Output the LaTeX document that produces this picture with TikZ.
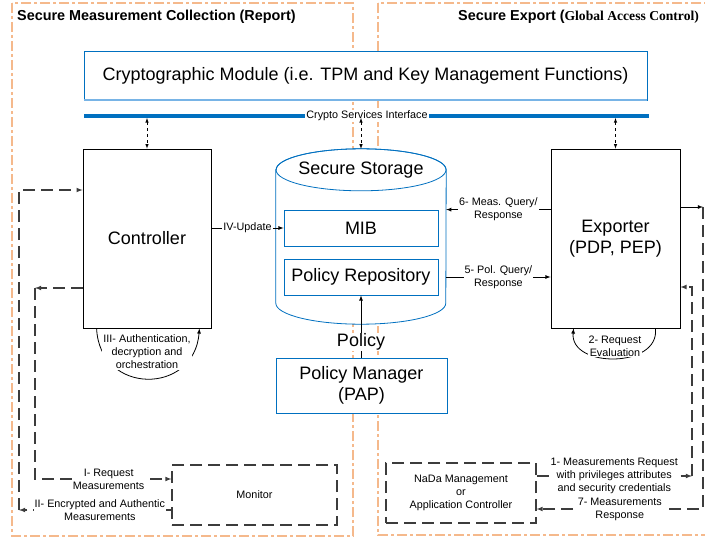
\documentclass[tikz,border=0pt]{standalone}
\usepackage{fontspec}
\setmainfont{Liberation Sans}
\newfontfamily\timesfont{Liberation Serif}
\usepackage{tikz}
\usetikzlibrary{calc}
\definecolor{myblue}{RGB}{0,112,192}
\definecolor{mylightblue}{RGB}{120,180,230}
\definecolor{myorange}{RGB}{245,185,140}
\definecolor{mygray}{RGB}{60,60,60}
\newcommand{\bigtxt}{\fontsize{18}{21}\selectfont}
\newcommand{\smalltxt}{\fontsize{10.8}{13}\selectfont}
\newcommand{\titletxt}{\fontsize{14.4}{16}\selectfont\bfseries}

\begin{document}
\begin{tikzpicture}[x=1pt,y=-1pt,>=latex]
	\tikzstyle{zone}=[draw=myorange,line width=1.1pt,dash pattern=on 10pt off 3pt on 3pt off 3pt];
	\tikzstyle{blk}=[draw,fill=white,line width=0.8pt,align=center,font=\bigtxt];
	\tikzstyle{bbox}=[draw=myblue,fill=white,line width=0.8pt,align=center,font=\bigtxt];
	\tikzstyle{dbox}=[draw=mygray,fill=white,line width=1.1pt,dash pattern=on 12pt off 6pt,align=center,font=\smalltxt];
	\tikzstyle{lbl}=[fill=white,inner sep=1pt,align=center,font=\smalltxt];
	\tikzstyle{dline}=[draw=mygray,line width=1.1pt,dash pattern=on 12pt off 6pt];
	\tikzstyle{sline}=[->,line width=0.8pt];
	\tikzstyle{svc}=[<->,dashed,line width=0.6pt,shorten <=2pt];
	\useasboundingbox (0,0) rectangle (705,543);
	% the two zones
	\draw[zone] (12,3) rectangle (353,536);
	\draw[zone] (378,3) rectangle (720,535);
	\node[anchor=west,font=\titletxt,inner sep=0pt] (tl) at (17,17) {Secure Measurement Collection (Report)};
	\node[anchor=west,font=\titletxt,inner sep=0pt] (tr) at (458,17) {Secure Export ({\timesfont\fontsize{13.6}{16}\selectfont Global Access Control)}};
	% crypto module and its interface
	\node[bbox,minimum width=563,minimum height=49] (cm) at (365.5,75.5) {Cryptographic Module (i.e. TPM and Key Management Functions)};
	\draw[mylightblue,line width=2pt] (cm.south west) -- (cm.south east);
	\node[fill=white,font=\smalltxt,inner sep=1pt] (csi) at (367,116) {Crypto Services Interface};
	\coordinate (ifl) at (84,116);
	\coordinate (ifr) at (649,116);
	\draw[myblue,line width=3.5pt] (ifl) -- (csi.west);
	\draw[myblue,line width=3.5pt] (csi.east) -- (ifr);
	% main blocks
	\node[blk,minimum width=128,minimum height=179] (ctrl) at (147,238.5) {Controller};
	\node[blk,minimum width=129,minimum height=179] (exp) at (615.5,238.5) {Exporter\\(PDP, PEP)};
	\node[minimum width=170,minimum height=175,inner sep=0pt] (store) at (361,236.5) {};
	\draw[myblue,fill=white,line width=0.8pt] ($(store.north west)+(0,21)$) -- ($(store.south west)+(0,-21)$)
		arc[start angle=180,end angle=360,x radius=85pt,y radius=21pt] -- ($(store.north east)+(0,21)$)
		arc[start angle=0,end angle=180,x radius=85pt,y radius=21pt] -- cycle;
	\draw[myblue,line width=0.8pt] ($(store.north)+(0,21)$) ellipse [x radius=85pt,y radius=21pt];
	\node[font=\bigtxt] (sst) at (361,170) {Secure Storage};
	\node[bbox,minimum width=154,minimum height=36] (mib) at (361,228) {MIB};
	\node[bbox,minimum width=154,minimum height=36] (pol) at (361,277) {Policy Repository};
	\node[bbox,minimum width=171,minimum height=55] (pap) at (361.5,385.5) {Policy Manager\\(PAP)};
	\node[dbox,minimum width=165,minimum height=60] (mon) at (254.5,495) {Monitor};
	\node[dbox,minimum width=150,minimum height=60] (nada) at (461,493) {NaDa Management\\or\\Application Controller};
	% services
	\draw[svc] (ctrl.north |- ifl) -- (ctrl.north);
	\draw[svc] (store.north |- ifl) -- (store.north);
	\draw[svc] (exp.north |- ifl) -- (exp.north);
	% solid links
	\draw[sline] (ctrl.east |- mib) -- node[lbl]{IV-Update} (mib.west);
	\draw[sline] (exp.west |- mib.north) -- node[lbl]{6- Meas. Query/\\Response} (store.east |- mib.north);
	\draw[sline] (store.east |- pol) -- node[lbl]{5- Pol. Query/\\Response} (exp.west |- pol);
	\draw[sline] (pol.south |- pap.north) -- node[pos=0.25,fill=white,inner sep=1pt,font=\bigtxt]{Policy} (pol.south);
	\draw[sline] ($(ctrl.south west)+(14,0)$) .. controls ($(ctrl.south west)+(17,67)$) and ($(ctrl.south east)+(-17,67)$) .. ($(ctrl.south east)+(-12,0)$);
	\node[lbl] (auth) at (147,352) {III- Authentication,\\decryption and\\orchestration};
	\draw[sline] ($(exp.south east)+(-25,0)$) .. controls ($(exp.south east)+(-20,40)$) and ($(exp.south west)+(19,40)$) .. ($(exp.south west)+(23,0)$);
	\node[lbl] (eval) at (615,346) {2- Request\\Evaluation};
	% dashed links, left
	\coordinate (lo) at (19,510);
	\coordinate (lt) at (19,190);
	\coordinate (li) at (35,288);
	\coordinate (lb) at (35,479);
	\draw[dline,->] (mon.west |- lo) -- node[lbl,pos=0.47]{II- Encrypted and Authentic\\Measurements} (lo);
	\draw[dline,->] (lo) -- (lt) -- (ctrl.west |- lt);
	\draw[dline,->] (ctrl.west |- li) -- (li);
	\draw[dline,->] (li) -- (lb) -- node[lbl,pos=0.54]{I- Request\\Measurements} (mon.west |- lb);
	% dashed links, right
	\coordinate (ro) at (703,207);
	\coordinate (rb) at (703,509);
	\coordinate (ri) at (692,476);
	\coordinate (rt) at (692,287);
	\draw[sline] (exp.east |- ro) -- (ro);
	\draw[dline,->] (ro) -- (rb) -- node[lbl]{7- Measurements\\Response} (nada.east |- rb);
	\draw[dline,->] (nada.east |- ri) -- node[lbl]{1- Measurements Request\\with privileges attributes\\and security credentials} (ri);
	\draw[dline,->] (ri) -- (rt) -- (exp.east |- rt);
\end{tikzpicture}
\end{document}
